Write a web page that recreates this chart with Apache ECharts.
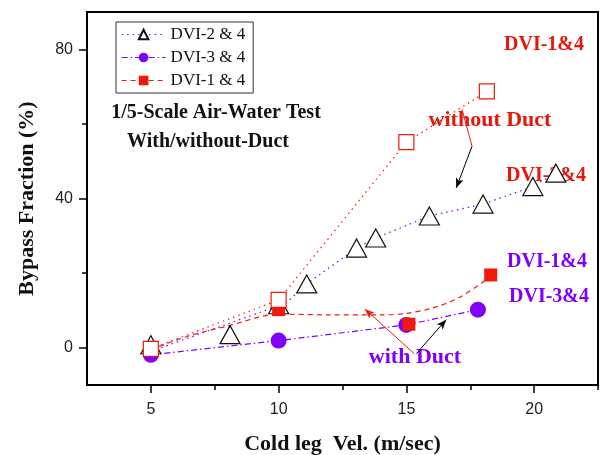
<!DOCTYPE html>
<html><head><meta charset="utf-8">
<script src="https://cdn.jsdelivr.net/npm/echarts@6/dist/echarts.min.js"></script>
<style>html,body{margin:0;padding:0;background:#fff}#c{width:601px;height:455px}</style>
</head><body><div id="c"></div>
<script>
// ---- data ----
const triX = [5, 8.1, 10, 11.1, 13.05, 13.8, 15.9, 18.0, 19.95, 20.85];
const triY = [0.8, 3.5, 11.5, 17.1, 26.7, 29.4, 35.3, 38.5, 43.2, 46.8];
const triLineX = [5, 10.3, 11.1, 13.05, 13.8, 15.9, 18.0, 19.95, 20.85];
const triLineY = [-1, 12, 17.1, 26.7, 29.4, 35.3, 38.5, 43.2, 46.8];
const circX = [5, 10, 15, 17.8];
const circY = [-1.9, 1.9, 6.1, 10.2];
const openSqX = [5, 10, 15, 18.15];
const openSqY = [-0.3, 12.8, 55.1, 68.7];
const fillSqX = [5, 10, 15.1, 18.3];
const fillSqY = [-0.5, 10.2, 6.3, 19.5];
const ductCurveX = [5, 6.5, 8, 10, 12, 14, 15, 16, 17, 18, 18.3];
const ductCurveY = [-0.5, 3.2, 5.8, 9.0, 8.8, 8.8, 9.2, 10.6, 13.2, 17.6, 19.5];
const xMajor = [5, 10, 15, 20];
const xMinor = [7.5, 12.5, 17.5, 22.5];
const yMajor = [0, 40, 80];
const yMinor = [20, 60];
const seriesNames = ['DVI-2 & 4', 'DVI-3 & 4', 'DVI-1 & 4'];

const zip = (a, b) => a.map((v, i) => [v, b[i]]);
const PURPLE = '#7f00ff', RED = '#f01a0a', TRED = '#e8170c';
const serif = '"Liberation Serif", "DejaVu Serif", serif';

const chart = echarts.init(document.getElementById('c'));
const axisCommon = {
  type: 'value', splitLine: {show: false},
  axisLine: {show: true, onZero: false, lineStyle: {color: '#000', width: 2}},
};
chart.setOption({
  animation: false,
  grid: {left: 87, top: 12, right: 3, bottom: 70, containLabel: false, outerBoundsMode: 'none',
    show: true, borderColor: '#000', borderWidth: 2, backgroundColor: 'transparent'},
  legend: {
    orient: 'vertical', left: 116, top: 22, padding: [4, 8, 4, 5],
    borderColor: '#333', borderWidth: 1, itemWidth: 44, itemHeight: 12, itemGap: 6,
    textStyle: {fontFamily: serif, fontSize: 17, color: '#111'},
    data: [
      {name: seriesNames[0], lineStyle: {opacity: 1, color: PURPLE, type: [1.5, 4], width: 1.2}},
      {name: seriesNames[1], lineStyle: {opacity: 1, color: PURPLE, type: [6, 3, 1.5, 3], width: 1.2}},
      {name: seriesNames[2], lineStyle: {opacity: 1, color: RED, type: [5, 4], width: 1.2}}
    ]
  },
  xAxis: [
    Object.assign({}, axisCommon, {min: 2.5, max: 22.5, position: 'bottom',
      axisTick: {show: true, length: 8, inside: false, lineStyle: {color: '#000', width: 1.5}, customValues: xMajor},
      axisLabel: {show: true, margin: 17, fontFamily: 'Liberation Sans, Arial', fontSize: 16, color: '#222', customValues: xMajor},
      name: 'Cold leg  Vel. (m/sec)', nameLocation: 'middle', nameGap: 48,
      nameTextStyle: {fontFamily: serif, fontWeight: 'bold', fontSize: 22, color: '#111'}}),
    Object.assign({}, axisCommon, {min: 2.5, max: 22.5, position: 'bottom',
      axisLine: {show: false, onZero: false},
      axisTick: {show: true, length: 5, lineStyle: {color: '#000', width: 1.5}, customValues: xMinor},
      axisLabel: {show: false}})
  ],
  yAxis: [
    Object.assign({}, axisCommon, {min: -10, max: 90, position: 'left',
      axisTick: {show: true, length: 8, lineStyle: {color: '#000', width: 1.5}, customValues: yMajor},
      axisLabel: {show: true, margin: 14, fontFamily: 'Liberation Sans, Arial', fontSize: 16, color: '#222', customValues: yMajor},
      name: 'Bypass Fraction (%)', nameLocation: 'middle', nameGap: 49, nameRotate: 90,
      nameTextStyle: {fontFamily: serif, fontWeight: 'bold', fontSize: 22, color: '#111'}}),
    Object.assign({}, axisCommon, {min: -10, max: 90, position: 'left',
      axisLine: {show: false, onZero: false},
      axisTick: {show: true, length: 5, lineStyle: {color: '#000', width: 1.5}, customValues: yMinor},
      axisLabel: {show: false}})
  ],
  series: [
    // connecting curves
    {type: 'line', name: 'c2', data: zip(triLineX, triLineY), showSymbol: false, silent: true, z: 1,
      lineStyle: {color: PURPLE, type: [1.5, 4], width: 1.2},
      markLine: {silent: true, symbol: ['none', 'none'], label: {show: false}, animation: false,
        lineStyle: {type: 'solid', width: 1, color: RED},
        data: [[{coord: [17.18, 63.9]}, {coord: [17.57, 54.0]}]]}},
    {type: 'line', name: 'c3', data: zip(circX, circY), showSymbol: false, silent: true, z: 1,
      lineStyle: {color: PURPLE, type: [6, 3, 1.5, 3], width: 1.2},
      markLine: {silent: true, symbol: ['none', 'arrow'], symbolSize: [6, 10], label: {show: false}, animation: false,
        lineStyle: {type: 'solid', width: 1, color: '#000'},
        data: [[{coord: [17.57, 54.0]}, {coord: [16.95, 42.8]}], [{coord: [15.39, -1.6]}, {coord: [16.56, 7.5]}]]}},
    {type: 'line', name: 'c1o', data: zip(openSqX, openSqY), showSymbol: false, silent: true, z: 1,
      lineStyle: {color: RED, type: [1.5, 4], width: 1.2}},
    {type: 'line', name: 'c1d', data: zip(ductCurveX, ductCurveY), showSymbol: false, silent: true, z: 1, smooth: 0.3,
      lineStyle: {color: RED, type: [5, 4], width: 1.2},
      markLine: {silent: true, symbol: ['none', 'arrow'], symbolSize: [6, 10], label: {show: false}, animation: false,
        lineStyle: {type: 'solid', width: 1, color: RED},
        data: [[{coord: [15.31, -1.6]}, {coord: [13.37, 10.4]}]]}},
    // markers
    {type: 'line', name: seriesNames[1], data: zip(circX, circY), symbol: 'circle', symbolSize: 16, z: 2,
      lineStyle: {opacity: 0, color: PURPLE}, itemStyle: {color: PURPLE}},
    {type: 'line', name: seriesNames[0], data: zip(triX, triY), symbol: 'triangle', symbolSize: [20, 18], z: 3,
      lineStyle: {opacity: 0, color: PURPLE}, itemStyle: {color: '#fff', borderColor: '#111', borderWidth: 1.2}},
    {type: 'line', name: seriesNames[2], data: zip(fillSqX, fillSqY), symbol: 'rect', symbolSize: 13, z: 4,
      lineStyle: {opacity: 0, color: RED}, itemStyle: {color: RED}},
    {type: 'line', name: 'open', data: zip(openSqX, openSqY), symbol: 'rect', symbolSize: 15, z: 5,
      lineStyle: {opacity: 0}, itemStyle: {color: '#fff', borderColor: RED, borderWidth: 1.2}}
  ],
  graphic: [
    {type: 'text', x: 544, y: 45, style: {text: 'DVI-1&4', fill: TRED, font: 'bold 20px ' + serif, textAlign: 'center', textVerticalAlign: 'middle'}},
    {type: 'text', x: 490, y: 120, style: {text: 'without Duct', fill: TRED, font: 'bold 22px ' + serif, textAlign: 'center', textVerticalAlign: 'middle'}},
    {type: 'text', x: 546, y: 176, style: {text: 'DVI-2&4', fill: TRED, font: 'bold 20px ' + serif, textAlign: 'center', textVerticalAlign: 'middle'}},
    {type: 'text', x: 547, y: 262, style: {text: 'DVI-1&4', fill: PURPLE, font: 'bold 20px ' + serif, textAlign: 'center', textVerticalAlign: 'middle'}},
    {type: 'text', x: 549, y: 297, style: {text: 'DVI-3&4', fill: PURPLE, font: 'bold 20px ' + serif, textAlign: 'center', textVerticalAlign: 'middle'}},
    {type: 'text', x: 415, y: 357, style: {text: 'with Duct', fill: PURPLE, font: 'bold 22px ' + serif, textAlign: 'center', textVerticalAlign: 'middle'}},
    {type: 'text', x: 216, y: 113, style: {text: '1/5-Scale Air-Water Test', fill: '#111', font: 'bold 20px ' + serif, textAlign: 'center', textVerticalAlign: 'middle'}},
    {type: 'text', x: 208, y: 142, style: {text: 'With/without-Duct', fill: '#111', font: 'bold 20px ' + serif, textAlign: 'center', textVerticalAlign: 'middle'}}
  ]
});
</script></body></html>
